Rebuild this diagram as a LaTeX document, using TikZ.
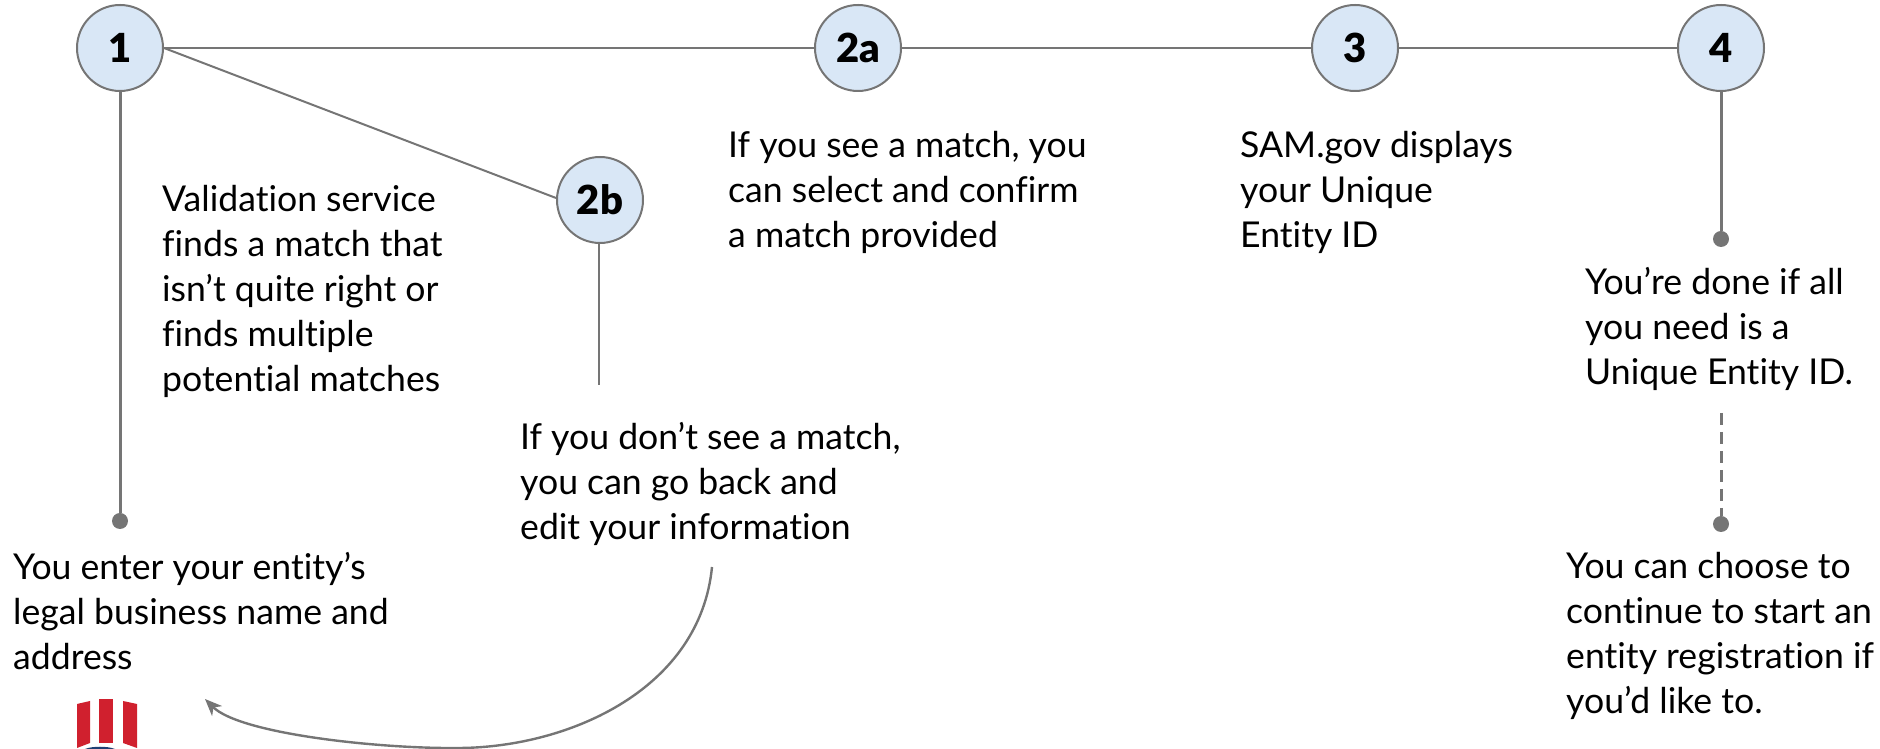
\documentclass[tikz,border=0pt]{standalone}
\usepackage{fontspec}
\setmainfont[Ligatures=NoCommon,BoldFont={Lato Black}]{Lato}
\usetikzlibrary{positioning}
\usetikzlibrary{arrows.meta}
\definecolor{stepgray}{HTML}{757575}
\definecolor{stepblue}{HTML}{D9E7F6}
\definecolor{logored}{HTML}{D0202E}
\definecolor{logoblue}{HTML}{1F3F73}
\tikzset{
    timeline/.style={
            x=1pt,y=1pt,node distance=2cm,
            stepnode/.style={circle,draw=stepgray,fill=stepblue,line width=2pt,minimum size=86pt,inner sep=0pt,font=\fontsize{40}{40}\selectfont\bfseries},
            steptext/.style={inner sep=0pt,align=left,font=\fontsize{35.6}{45}\selectfont},
            link/.style={draw=stepgray,line width=2pt},
            thicklink/.style={draw=stepgray,line width=3pt},
            enddot/.style={circle,fill=stepgray,minimum size=16pt,inner sep=0pt}
        }
    }
\begin{document}
\begin{tikzpicture}[timeline]
    \useasboundingbox (0,0) rectangle (1880,749);
    \node (n1) [stepnode] at (120,701) {1};
    \node (n2a) [stepnode,right=738pt of n1.center,anchor=center] {2a};
    \node (n3) [stepnode,right=497pt of n2a.center,anchor=center] {3};
    \node (n4) [stepnode,right=366pt of n3.center,anchor=center] {4};
    \node (n2b) [stepnode,below right=152pt and 480pt of n1.center,anchor=center] {2b};
    \node (d1) [enddot,below=473pt of n1.center,anchor=center] {};
    \node (d4) [enddot,below=191pt of n4.center,anchor=center] {};
    \node (d5) [enddot,below=476pt of n4.center,anchor=center] {};
    \node (t1) [steptext,below right=504pt and -107pt of n1.center] {You enter your entity’s\\legal business name and\\address};
    \node (tv) [steptext,below right=137pt and 42pt of n1.center] {Validation service\\finds a match that\\isn’t quite right or\\finds multiple\\potential matches};
    \node (t2a) [steptext,below right=83pt and -130pt of n2a.center] {If you see a match, you\\can select and confirm\\a match provided};
    \node (t3) [steptext,below right=83pt and -115pt of n3.center] {SAM.gov displays\\your Unique\\Entity ID};
    \node (t4) [steptext,below right=219pt and -136pt of n4.center] {You’re done if all\\you need is a\\Unique Entity ID.};
    \node (t5) [steptext,below right=504pt and -155pt of n4.center] {You can choose to\\continue to start an\\entity registration if\\you’d like to.};
    \node (t2b) [steptext,below right=222pt and -80pt of n2b.center] {If you don’t see a match,\\you can go back and\\edit your information};
    \coordinate (s2b) at (599,364);
    \coordinate (s4) at (1721,336);
    \coordinate (curvea) at (712,182);
    \coordinate (curveb) at (205,50);
    \draw [link] (n1) -- (n2a);
    \draw [link] (n2a) -- (n3);
    \draw [link] (n3) -- (n4);
    \draw [thicklink] (n1) -- (d1);
    \draw [thicklink] (n4) -- (d4);
    \draw [thicklink,dash pattern=on 12pt off 7pt] (s4) -- (d5);
    \draw [link] (n1.east) -- (n2b.west |- 0,551);
    \draw [link,line width=1.5pt] (n2b.south -| s2b) -- (s2b);
    \draw [link,line width=2.4pt,-{Stealth[length=17pt,width=14pt,inset=5pt]}] (curvea) .. controls (700,60) and (570,2) .. (460,1) .. controls (380,0) and (240,15) .. (curveb);
    % logo, cropped by the lower edge
    \fill [logored] (77,1) -- (90,6) -- (90,48) -- (77,45) -- cycle;
    \fill [logored] (99,6) -- (113,6) -- (113,50) -- (99,50) -- cycle;
    \fill [logored] (123,6) -- (137,1) -- (137,45) -- (123,48) -- cycle;
    \fill [logoblue] (85,0) .. controls (92,3) and (108,3) .. (115,0) -- cycle;
\end{tikzpicture}
\end{document}
